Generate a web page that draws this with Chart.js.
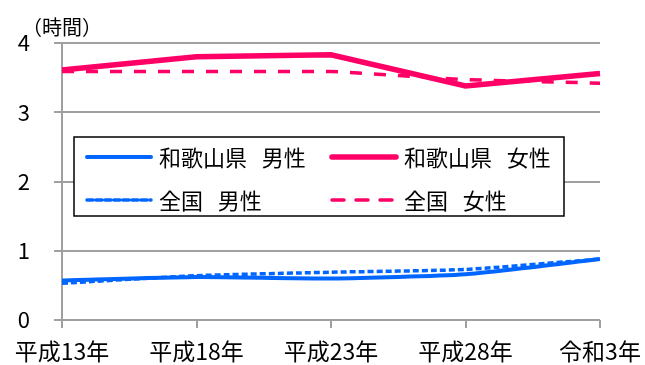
<!DOCTYPE html>
<html lang="ja">
<head>
<meta charset="utf-8">
<title>家事関連時間</title>
<script src="https://cdn.jsdelivr.net/npm/chart.js@4/dist/chart.umd.min.js"></script>
<style>
    html, body { margin: 0; padding: 0; background: #ffffff; }
    #myChart { display: block; }
</style>
</head>
<body>
<canvas id="myChart" width="645" height="365"></canvas>
<script>
// Données : années et durées (heures)
const annees = ['平成13年', '平成18年', '平成23年', '平成28年', '令和3年'];
const wakayamaHommes = [0.57, 0.62, 0.60, 0.66, 0.88];
const wakayamaFemmes = [3.61, 3.80, 3.83, 3.38, 3.56];
const nationalHommes = [0.53, 0.64, 0.69, 0.73, 0.88];
const nationalFemmes = [3.59, 3.59, 3.59, 3.47, 3.42];
const uniteAxe = '（時間）';

const BLEU = '#0066ff';
const ROSE = '#ff0066';
const GRIS = '#a0a0a0';
const POLICE = '"Noto Sans CJK JP", "Noto Sans", sans-serif';

// Légende dessinée à la main dans la zone du graphique
const legendeEncadree = {
    id: 'legendeEncadree',
    afterDatasetsDraw(chart) {
        const ctx = chart.ctx;
        const x0 = 74, y0 = 137, w = 490, h = 79;
        ctx.save();
        ctx.fillStyle = '#ffffff';
        ctx.fillRect(x0, y0, w, h);
        ctx.strokeStyle = '#000000';
        ctx.lineWidth = 1.5;
        ctx.strokeRect(x0, y0, w, h);

        const colonnes = [87, 332];
        const lignes = [157, 200];
        chart.data.datasets.forEach((ds, k) => {
            const x = colonnes[k % 2];
            const y = lignes[Math.floor(k / 2)];
            ctx.beginPath();
            ctx.strokeStyle = ds.borderColor;
            ctx.lineWidth = ds.borderWidth;
            ctx.lineCap = 'round';
            ctx.setLineDash(ds.borderDash || []);
            ctx.moveTo(x, y);
            ctx.lineTo(x + 64, y);
            ctx.stroke();
            ctx.setLineDash([]);
            ctx.fillStyle = '#000000';
            ctx.font = '22px ' + POLICE;
            ctx.textBaseline = 'middle';
            ctx.textAlign = 'left';
            ctx.fillText(ds.label, x + 72, y + 1);
        });
        ctx.restore();
    },
    afterDraw(chart) {
        // unité de l'axe vertical
        const ctx = chart.ctx;
        ctx.save();
        ctx.fillStyle = '#000000';
        ctx.font = '20px ' + POLICE;
        ctx.textBaseline = 'middle';
        ctx.textAlign = 'left';
        ctx.fillText(uniteAxe, 22, 27);
        ctx.restore();
    }
};

const ctx = document.getElementById('myChart').getContext('2d');
const myChart = new Chart(ctx, {
    type: 'line',
    data: {
        labels: annees,
        datasets: [{
            label: '和歌山県   男性',
            data: wakayamaHommes,
            borderColor: BLEU,
            borderWidth: 4,
            tension: 0.2,
            order: 2
        }, {
            label: '和歌山県   女性',
            data: wakayamaFemmes,
            borderColor: ROSE,
            borderWidth: 5.5,
            order: 2
        }, {
            label: '全国   男性',
            data: nationalHommes,
            borderColor: BLEU,
            borderWidth: 3.5,
            borderDash: [6, 3],
            tension: 0.2,
            order: 1
        }, {
            label: '全国   女性',
            data: nationalFemmes,
            borderColor: ROSE,
            borderWidth: 3.5,
            borderDash: [12, 12],
            order: 1
        }]
    },
    options: {
        responsive: false,
        animation: false,
        layout: { padding: { top: 43, right: 45, left: 0, bottom: 0 } },
        elements: { point: { radius: 0 }, line: { fill: false, borderCapStyle: 'butt' } },
        plugins: {
            legend: { display: false },
            tooltip: { enabled: false }
        },
        scales: {
            x: {
                offset: false,
                afterFit: scale => {
                    scale.height = 45;
                    // pas de marge ajoutée pour les libellés des extrémités
                    scale.paddingLeft = 0;
                    scale.paddingRight = 0;
                },
                grid: {
                    drawOnChartArea: false,
                    color: GRIS,
                    lineWidth: 2,
                    tickLength: 8
                },
                border: { display: false },
                ticks: {
                    color: '#000000',
                    font: { family: POLICE, size: 23 },
                    padding: 9,
                    maxRotation: 0,
                    autoSkip: false
                }
            },
            y: {
                min: 0,
                max: 4,
                afterFit: scale => { scale.width = 62; },
                grid: {
                    color: GRIS,
                    lineWidth: 2,
                    tickLength: 8
                },
                border: { color: GRIS, width: 2 },
                ticks: {
                    stepSize: 1,
                    color: '#000000',
                    font: { family: POLICE, size: 22 },
                    padding: 24
                }
            }
        }
    },
    plugins: [legendeEncadree]
});
</script>
</body>
</html>
